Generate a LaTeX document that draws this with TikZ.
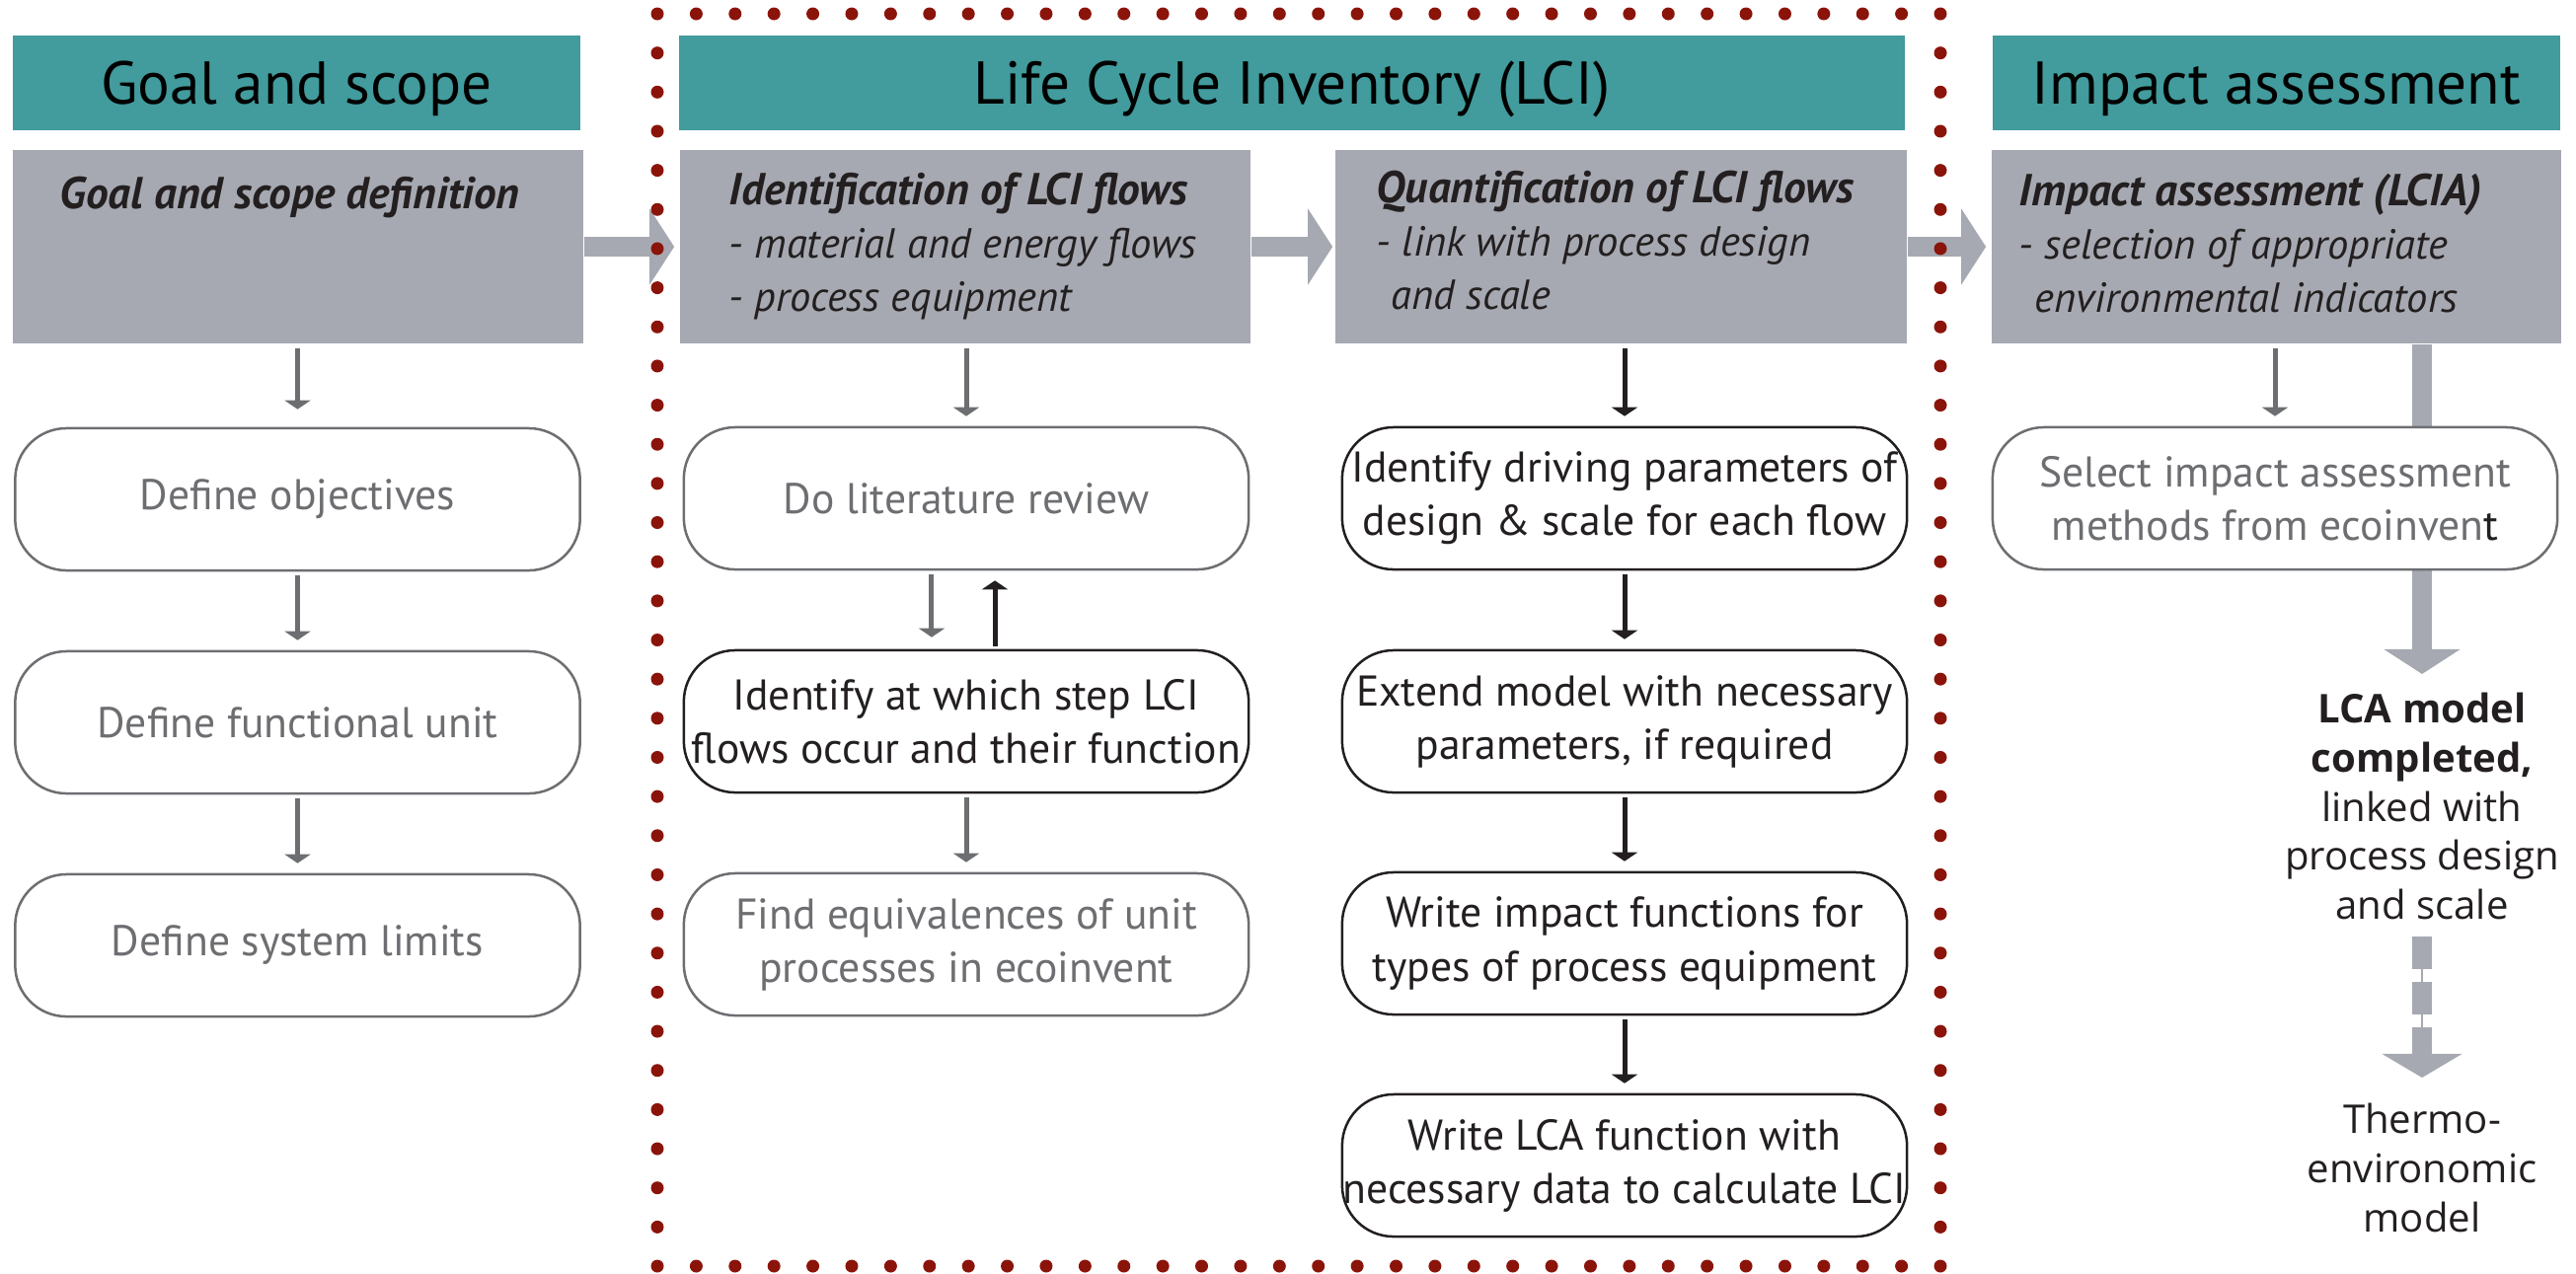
\documentclass[tikz,border=0pt]{standalone}
\usepackage{fontspec}
\setmainfont{PT Sans}
\newfontfamily\rfont{Open Sans}
\usetikzlibrary{arrows.meta}
\definecolor{hdrteal}{RGB}{66,155,156}
\definecolor{phasegray}{RGB}{166,169,177}
\definecolor{stepgray}{RGB}{109,110,113}
\definecolor{inkblack}{RGB}{35,31,32}
\definecolor{dotred}{RGB}{139,20,10}
\newcommand\phasetitle[1]{{\fontsize{12.9}{15.4}\selectfont\bfseries #1}}
\begin{document}
% one coordinate unit = 0.01cm, y grows downwards
\begin{tikzpicture}[x=0.01cm,y=-0.01cm,
  hdr/.style={fill=hdrteal, minimum height=0.95cm, inner sep=0,
    font=\fontsize{17.4}{20}\selectfont, text=black, text height=12.2pt, text depth=0pt},
  phase/.style={fill=phasegray, minimum height=1.96cm, inner sep=0},
  phasetxt/.style={anchor=north west, inner sep=0, align=left,
    font=\fontsize{12.1}{15.4}\selectfont\itshape, text=inkblack},
  stepbox/.style={draw, fill=white, rounded corners=0.52cm, minimum width=5.72cm,
    minimum height=1.44cm, inner sep=0, line width=0.025cm, align=center,
    font=\fontsize{12.4}{15.4}\selectfont},
  graystep/.style={stepbox, draw=stepgray, text=stepgray},
  blackstep/.style={stepbox, draw=inkblack, text=inkblack},
  stepflow/.style={line width=0.05cm, -{Triangle[width=0.26cm,length=0.09cm]},
    shorten <=0.04cm, shorten >=0.1cm},
  grayflow/.style={stepflow, draw=stepgray},
  blackflow/.style={stepflow, draw=inkblack},
  bigflow/.style={draw=phasegray, line width=0.2cm,
    -{Triangle[width=0.76cm,length=0.25cm]}},
  rtxt/.style={inner sep=0, align=center, text=inkblack,
    font=\rfont\fontsize{11.4}{14.2}\selectfont},
]
\useasboundingbox (0,0) rectangle (2610,1290);

% phase headers
\node[hdr, minimum width=5.75cm]  (hgoal) at (300.5,84) {Goal and scope};
\node[hdr, minimum width=12.42cm] (hlci)  at (1309,84)  {Life Cycle Inventory (LCI)};
\node[hdr, minimum width=5.75cm]  (himp)  at (2306.5,84) {Impact assessment};

% phase boxes
\node[phase, minimum width=5.78cm] (goal)   at (302,250)    {};
\node[phase, minimum width=5.78cm] (ident)  at (978,250)    {};
\node[phase, minimum width=5.79cm] (quant)  at (1642.5,250) {};
\node[phase, minimum width=5.77cm] (impact) at (2306.5,250) {};

\node[phasetxt] (goaltxt) at (60,178) {\phasetitle{Goal and scope definition}};
\node[phasetxt] (identtxt) at (738,174) {\phasetitle{Identification of LCI flows}\\- material and energy flows\\- process equipment};
\node[phasetxt] (quanttxt) at (1394,172) {\phasetitle{Quantification of LCI flows}\\- link with process design\\\hspace*{0.15cm}and scale};
\node[phasetxt] (imptxt) at (2045,175) {\phasetitle{Impact assessment (LCIA)}\\- selection of appropriate\\\hspace*{0.16cm}environmental indicators};

% flow between phases
\draw[bigflow, shorten >=0.05cm] (goal.east) -- (ident.west);
\draw[bigflow, shorten >=0.02cm] (ident.east) -- (quant.west);
\draw[bigflow, shorten >=0.05cm] (quant.east) -- (impact.west);

% outcome on the right
\node[rtxt, anchor=north] (lca) at (2454,701) {\textbf{LCA model}\\\textbf{completed,}\\linked with\\process design\\and scale};
\node[rtxt, anchor=north] (thermo) at (2454,1117) {Thermo-\\environomic\\model};

\draw[bigflow, shorten >=0.18cm] (impact.south -| lca.north) -- (lca.north);
\draw[draw=phasegray, line width=0.015cm, shorten <=0.16cm, shorten >=0.4cm] (lca.south) -- (thermo.north);
\draw[draw=phasegray, line width=0.2cm, dash pattern=on 0.33cm off 0.13cm,
  -{Triangle[width=0.8cm,length=0.24cm]}, shorten <=0.16cm, shorten >=0.25cm] (lca.south) -- (thermo.north);

% goal and scope steps
\node[graystep] (obj) at (301.5,506) {Define objectives};
\node[graystep] (fu)  at (301.5,732) {Define functional unit};
\node[graystep] (sl)  at (301.5,958) {Define system limits};

% identification steps
\node[graystep]  (lit)    at (979,505) {Do literature review};
\node[blackstep] (idstep) at (979,731) {Identify at which step LCI\\flows occur and their function};
\node[graystep]  (eq)     at (979,957) {Find equivalences of unit\\processes in ecoinvent};

% quantification steps
\node[blackstep] (drv)  at (1646,505)  {Identify driving parameters of\\design \& scale for each flow};
\node[blackstep] (ext)  at (1646,731)  {Extend model with necessary\\parameters, if required};
\node[blackstep] (wif)  at (1646,956)  {Write impact functions for\\types of process equipment};
\node[blackstep] (wlca) at (1646,1181) {Write LCA function with\\necessary data to calculate LCI};

% impact assessment step
\node[graystep] (sel) at (2305,505) {Select impact assessment\\methods from ecoinven\textcolor{inkblack}{t}};

% step connectors
\draw[grayflow, shorten >=0.18cm] (goal.south -| obj.north) -- (obj.north);
\draw[grayflow] (obj) -- (fu);
\draw[grayflow] (fu) -- (sl);

\draw[grayflow] (ident.south -| lit.north) -- (lit.north);
\draw[grayflow, shorten >=0.12cm] ([xshift=-0.35cm]lit.south) -- ([xshift=-0.35cm]idstep.north);
\draw[blackflow, shorten <=0.03cm] ([xshift=0.29cm]idstep.north) -- ([xshift=0.29cm]lit.south);
\draw[grayflow] (idstep) -- (eq);

\draw[blackflow] (quant.south -| drv.north) -- (drv.north);
\draw[blackflow] (drv) -- (ext);
\draw[blackflow] (ext) -- (wif);
\draw[blackflow] (wif) -- (wlca);

\draw[grayflow] (impact.south -| sel.north) -- (sel.north);

% dotted frame around the inventory phase
\foreach \i in {0,...,33}{
  \fill[dotred] (666+\i*39.394,14) circle[radius=0.065cm];
  \fill[dotred] (666+\i*39.394,1283) circle[radius=0.065cm];
}
\foreach \i in {1,...,31}{
  \fill[dotred] (666,14+\i*39.656) circle[radius=0.065cm];
  \fill[dotred] (1966,14+\i*39.656) circle[radius=0.065cm];
}
\end{tikzpicture}
\end{document}
